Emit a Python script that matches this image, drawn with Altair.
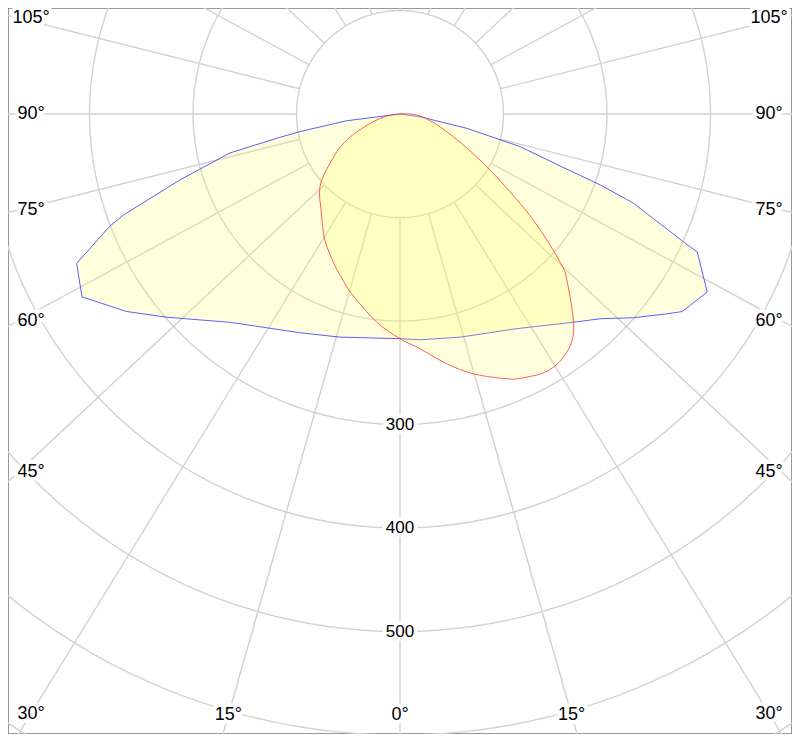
import altair as alt
import numpy as np
import pandas as pd

# ---- data (gamma angle in degrees, negative = left half; intensity in cd) ----
# C0 / C180 plane (blue outline)
blue_angle = [-90, -82.8, -80, -79, -77.1, -73.3, -69.9, -68.8, -65.2, -60.1, -54.2, -49, -44.2, -39.3,
              -24.6, -15.1, 0, 5.1, 15.1, 28.6, 39.8, 44.4, 48.9, 53.2, 55, 59.9, 65.1, 65.7, 69.1,
              70.5, 72, 74.8, 77.9, 82.3, 90]
blue_cd = [0, 52, 98.3, 118.3, 168.8, 222.4, 285.2, 301.2, 344.2, 354.4, 326.1, 299.2, 277.5, 260,
           232.4, 223.3, 217.1, 219, 223.3, 236.2, 261.9, 276.8, 299.5, 322.3, 332.8, 343.1, 316.7,
           300.9, 241.4, 205.4, 162.9, 120.4, 66, 19.5, 0]

# C90 / C270 plane (red outline)
red_angle = [90, 81.9, 66.9, 58.7, 53.3, 50.4, 47.2, 45.1, 39.2, 35, 30.1, 25.1, 22, 15.8, 10.6, 4.9,
             0, -6.4, -15.1, -18.9, -23.3, -30.8, -38.3, -47.7, -54.8, -64, -75.6]
red_cd = [0, 22.8, 56.1, 98.2, 144.8, 176, 211, 227.7, 265.6, 281, 286.4, 281.4, 275.9, 260.9, 245.5,
          227.7, 217.1, 202.3, 179.8, 169.8, 159.2, 141.9, 122.4, 104.6, 82.9, 57.4, 23.3]

# grid / tick values
ring_values = [100, 200, 300, 400, 500, 600, 700]
ring_labels = [300, 400, 500]
spoke_angles = list(range(0, 360, 15))
label_angles = [-105, -90, -75, -60, -45, -30, -15, 0, 15, 30, 45, 60, 75, 90, 105]

# ---- layout ----
W, H = 784, 726
CX, CY = 392, 106          # pole position inside the plot (px)
S = 1.035                  # px per cd
K = 1.066                  # horizontal stretch of the spokes
K_SIDE = 1.03              # stretch used to place the side labels
BOX_X, BOX_Y = 369, 601    # where angle labels sit (px from pole)

xs = alt.Scale(domain=[-CX / S, (W - CX) / S], nice=False, zero=False)
ys = alt.Scale(domain=[-(H - CY) / S, CY / S], nice=False, zero=False)


def X(f):
    return alt.X(f, type="quantitative", scale=xs, axis=None)


def Y(f):
    return alt.Y(f, type="quantitative", scale=ys, axis=None)


GRID = "#d2d2d2"

ring_df = pd.DataFrame([{"ring": r, "i": i, "a": i * 2} for r in ring_values for i in range(181)])
rings = alt.Chart(ring_df).transform_calculate(
    x="datum.ring*sin(datum.a*PI/180)", y="-datum.ring*cos(datum.a*PI/180)"
).mark_line(stroke=GRID, strokeWidth=1.4, clip=True).encode(
    x=X("x"), y=Y("y"), detail="ring:N", order="i:Q"
)

spokes = alt.Chart(pd.DataFrame({"a": spoke_angles})).transform_calculate(
    sx=f"{K}*sin(datum.a*PI/180)", cy="cos(datum.a*PI/180)"
).transform_calculate(
    n="sqrt(datum.sx*datum.sx+datum.cy*datum.cy)"
).transform_calculate(
    x1="100*datum.sx/datum.n", y1="-100*datum.cy/datum.n",
    x2="1200*datum.sx/datum.n", y2="-1200*datum.cy/datum.n"
).mark_rule(stroke=GRID, strokeWidth=1.4, clip=True).encode(
    x=X("x1"), y=Y("y1"), x2="x2:Q", y2="y2:Q"
)


def curve(angles, cds, stroke, interp):
    df = pd.DataFrame({"angle": angles, "cd": cds, "i": list(range(len(angles)))})
    return alt.Chart(df).transform_calculate(
        x="datum.cd*sin(datum.angle*PI/180)", y="-datum.cd*cos(datum.angle*PI/180)"
    ).mark_line(
        fill="#ffff55", fillOpacity=0.2, stroke=stroke, strokeWidth=1,
        strokeOpacity=0.75, interpolate=interp, clip=True
    ).encode(x=X("x"), y=Y("y"), order="i:Q")


blue = curve(blue_angle, blue_cd, "#2828ff", "linear-closed")
red = curve(red_angle, red_cd, "#ff2828", "cardinal-closed")

# angle labels placed where each spoke direction meets the label box
rows = []
for a in label_angles:
    r = np.radians(a)
    k = K if abs(a) <= 30 else K_SIDE
    dx, dy = k * np.sin(r), np.cos(r)
    n = np.hypot(dx, dy)
    dx, dy = dx / n, dy / n
    ts = []
    if abs(dx) > 1e-9:
        ts.append(BOX_X / abs(dx))
    if dy > 1e-9:
        ts.append(BOX_Y / dy)
    t = min(ts)
    rows.append({"text": f"{abs(a)}°", "x": t * dx / S, "y": -t * dy / S})
ang_df = pd.DataFrame(rows)
val_df = pd.DataFrame({"text": [str(v) for v in ring_labels], "x": [0] * len(ring_labels),
                       "y": [-v for v in ring_labels]})

FONT = "Liberation Sans"


def labels(df, size):
    base = alt.Chart(df).encode(x=X("x"), y=Y("y"), text="text:N")
    halo = base.mark_text(font=FONT, fontSize=size, align="center", baseline="middle",
                          fill="white", stroke="white", strokeWidth=8, strokeJoin="round")
    txt = base.mark_text(font=FONT, fontSize=size, align="center", baseline="middle", fill="#000000")
    return halo, txt


ah, at = labels(ang_df, 18)
vh, vt = labels(val_df, 17)

chart = alt.layer(rings, spokes, blue, red, vh, ah, vt, at).properties(
    width=W, height=H, padding=0, autosize=alt.AutoSizeParams(type="none"),
    background="white"
).configure_view(stroke="#777777", strokeWidth=1.5)

chart.save("out.html", embed_options={"renderer": "svg", "actions": False})
